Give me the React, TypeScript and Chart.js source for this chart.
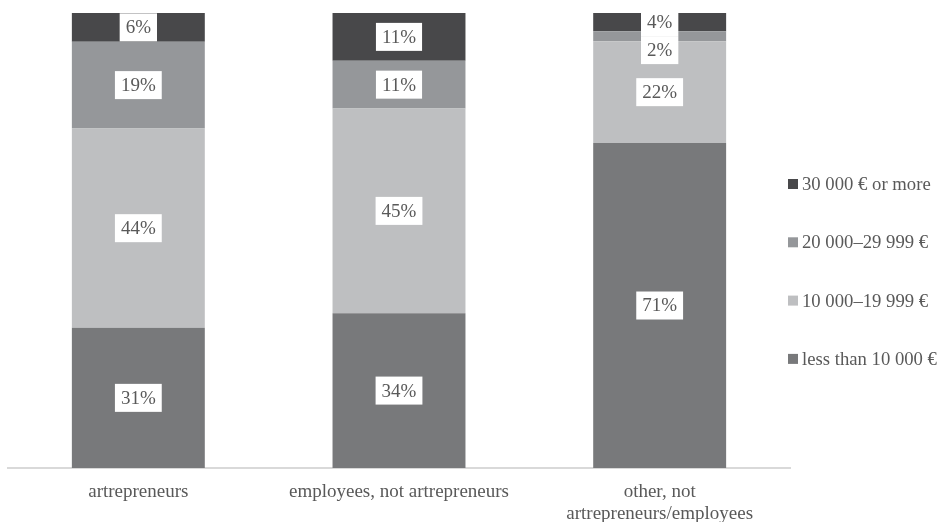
import React, { useEffect, useRef } from "react";
import { Chart, registerables } from "chart.js";

Chart.register(...registerables);

const categories: (string | string[])[] = [
  "artrepreneurs",
  "employees, not artrepreneurs",
  ["other, not", "artrepreneurs/employees"],
];

const seriesNames = [
  "less than 10 000 €",
  "10 000–19 999 €",
  "20 000–29 999 €",
  "30 000 € or more",
];

const lessThan10k = [30.8, 34.0, 71.4];
const from10kTo20k = [43.8, 45.0, 22.4];
const from20kTo30k = [19.1, 10.5, 2.2];
const over30k = [6.3, 10.5, 4.0];

const seriesColors = ["#78797b", "#bebfc1", "#95979a", "#48484a"];

const FONT = "'Liberation Serif', 'Times New Roman', serif";
const TEXT = "#595959";

const labelPlugin = {
  id: "segLabels",
  afterDatasetsDraw(chart: any) {
    const ctx = chart.ctx;
    ctx.save();
    ctx.font = `19px ${FONT}`;
    ctx.textAlign = "center";
    ctx.textBaseline = "middle";
    const n = chart.data.labels.length;
    for (let i = 0; i < n; i++) {
      let lastBottom = -Infinity;
      for (let d = chart.data.datasets.length - 1; d >= 0; d--) {
        const meta = chart.getDatasetMeta(d);
        const el: any = meta.data[i];
        if (!el) continue;
        const v = chart.data.datasets[d].data[i];
        const txt = Math.round(v) + "%";
        const w = ctx.measureText(txt).width + 12;
        const h = 28;
        let cy = (el.y + el.base) / 2;
        if (cy - h / 2 < lastBottom) cy = lastBottom + h / 2;
        lastBottom = cy + h / 2;
        ctx.fillStyle = "#ffffff";
        ctx.fillRect(el.x - w / 2, cy - h / 2, w, h);
        ctx.fillStyle = TEXT;
        ctx.fillText(txt, el.x, cy + 1);
      }
    }
    ctx.restore();
  },
};

const legendPlugin = {
  id: "customLegend",
  afterDraw(chart: any) {
    const ctx = chart.ctx;
    ctx.save();
    ctx.font = `18.7px ${FONT}`;
    ctx.textAlign = "left";
    ctx.textBaseline = "middle";
    const ds = chart.data.datasets;
    const spacing = 58.3;
    const x = chart.chartArea.right - 2;
    const startY = 184;
    let k = 0;
    for (let d = ds.length - 1; d >= 0; d--) {
      const y = startY + k * spacing;
      ctx.fillStyle = ds[d].backgroundColor;
      ctx.fillRect(x, y - 5, 10, 10);
      ctx.fillStyle = TEXT;
      ctx.fillText(ds[d].label, x + 14, y + 1);
      k++;
    }
    ctx.restore();
  },
};

export default function App() {
  const ref = useRef<HTMLCanvasElement>(null);
  useEffect(() => {
    if (!ref.current) return;
    const data = [lessThan10k, from10kTo20k, from20kTo30k, over30k];
    const chart = new Chart(ref.current, {
      type: "bar",
      data: {
        labels: categories as any,
        datasets: seriesNames.map((name, i) => ({
          label: name,
          data: data[i],
          backgroundColor: seriesColors[i],
          borderWidth: 0,
          barPercentage: 0.51,
          categoryPercentage: 1,
        })),
      },
      options: {
        responsive: false,
        animation: false,
        devicePixelRatio: 1,
        layout: { padding: { top: 13, left: 8, right: 150, bottom: -16 } },
        plugins: {
          legend: { display: false },
          tooltip: { enabled: false },
        },
        scales: {
          x: {
            stacked: true,
            grid: { display: false, drawTicks: false },
            border: { display: true, color: "#d9d9d9", width: 2 },
            ticks: {
              color: TEXT,
              font: { family: FONT, size: 19, lineHeight: 1.16 },
              padding: 13,
              maxRotation: 0,
              autoSkip: false,
            },
          },
          y: {
            stacked: true,
            display: false,
            min: 0,
            max: 100,
          },
        },
      },
      plugins: [labelPlugin, legendPlugin],
    });
    return () => chart.destroy();
  }, []);
  return (
    <div style={{ position: "fixed", left: 0, top: 0, width: 940, height: 522 }}>
      <canvas ref={ref} width={940} height={522} />
    </div>
  );
}
